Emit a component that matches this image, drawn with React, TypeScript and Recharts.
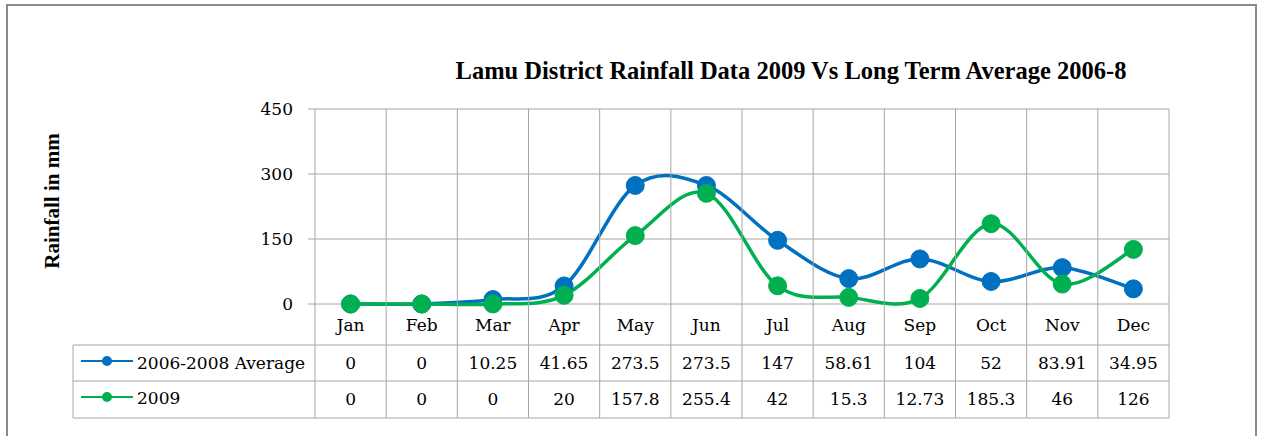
import { LineChart, Line, XAxis, YAxis, CartesianGrid } from "recharts";

const months = ["Jan", "Feb", "Mar", "Apr", "May", "Jun", "Jul", "Aug", "Sep", "Oct", "Nov", "Dec"];
const average = [0, 0, 10.25, 41.65, 273.5, 273.5, 147, 58.61, 104, 52, 83.91, 34.95];
const rain2009 = [0, 0, 0, 20, 157.8, 255.4, 42, 15.3, 12.73, 185.3, 46, 126];
const yTicks = [0, 150, 300, 450];

const seriesNames = ["2006-2008 Average", "2009"];
const BLUE = "#0070c0";
const GREEN = "#00b050";
const GRID = "#a6a6a6";
const FONT = "'DejaVu Serif', serif";
const FONT_SIZE = 17;

const W = 1262;
const H = 436;
const X_AXIS_H = 132;
const M = { top: 109, right: 93, bottom: 0, left: 0 };
const Y_AXIS_W = 315;
const PLOT_W = W - Y_AXIS_W - M.right;
const PLOT_H = H - M.top - X_AXIS_H;
const STEP = PLOT_W / months.length;
const TABLE_LEFT = 73;
// row boundaries below the zero line
const ROW1 = 41;
const ROW2 = 77;
const ROW3 = 114;

const data = months.map((m, i) => ({ month: m, avg: average[i], y2009: rain2009[i] }));

// Excel-like smoothed line (Catmull-Rom)
function smoothCurve(context: any) {
  let xs: number[] = [];
  let ys: number[] = [];
  return {
    areaStart() {},
    areaEnd() {},
    lineStart() {
      xs = [];
      ys = [];
    },
    point(x: number, y: number) {
      xs.push(+x);
      ys.push(+y);
    },
    lineEnd() {
      const n = xs.length;
      if (!n) return;
      context.moveTo(xs[0], ys[0]);
      for (let i = 0; i < n - 1; i++) {
        const a = Math.max(i - 1, 0);
        const d = Math.min(i + 2, n - 1);
        context.bezierCurveTo(
          xs[i] + (xs[i + 1] - xs[a]) / 6,
          ys[i] + (ys[i + 1] - ys[a]) / 6,
          xs[i + 1] - (xs[d] - xs[i]) / 6,
          ys[i + 1] - (ys[d] - ys[i]) / 6,
          xs[i + 1],
          ys[i + 1]
        );
      }
    },
  };
}

const LegendKey = ({ x, y, color }: { x: number; y: number; color: string }) => (
  <g>
    <line x1={x} y1={y} x2={x + 52} y2={y} stroke={color} strokeWidth={2} />
    <circle cx={x + 26} cy={y} r={5} fill={color} />
  </g>
);

const TableTick = (props: any) => {
  const { x, y, payload, index } = props;
  const left = x - STEP / 2;
  const right = x + STEP / 2;
  const top = y - PLOT_H;
  const textStyle = { fontFamily: FONT, fontSize: FONT_SIZE, fill: "#000" };
  return (
    <g>
      <line x1={left} y1={top} x2={left} y2={y + ROW3} stroke={GRID} />
      {index === months.length - 1 && <line x1={right} y1={top} x2={right} y2={y + ROW3} stroke={GRID} />}
      {[ROW1, ROW2, ROW3].map((r) => (
        <line key={r} x1={left} y1={y + r} x2={right} y2={y + r} stroke={GRID} />
      ))}
      <text x={x} y={y + 21} textAnchor="middle" dominantBaseline="central" style={textStyle}>
        {payload.value}
      </text>
      <text x={x} y={y + 59} textAnchor="middle" dominantBaseline="central" style={textStyle}>
        {average[index]}
      </text>
      <text x={x} y={y + 95} textAnchor="middle" dominantBaseline="central" style={textStyle}>
        {rain2009[index]}
      </text>
      {index === 0 && (
        <g>
          <line x1={TABLE_LEFT} y1={y + ROW1} x2={TABLE_LEFT} y2={y + ROW3} stroke={GRID} />
          {[ROW1, ROW2, ROW3].map((r) => (
            <line key={r} x1={TABLE_LEFT} y1={y + r} x2={left} y2={y + r} stroke={GRID} />
          ))}
          <LegendKey x={TABLE_LEFT + 8} y={y + 57} color={BLUE} />
          <LegendKey x={TABLE_LEFT + 8} y={y + 93} color={GREEN} />
          <text x={TABLE_LEFT + 64} y={y + 59} dominantBaseline="central" style={textStyle}>
            {seriesNames[0]}
          </text>
          <text x={TABLE_LEFT + 64} y={y + 94} dominantBaseline="central" style={textStyle}>
            {seriesNames[1]}
          </text>
        </g>
      )}
    </g>
  );
};

export default function App() {
  return (
    <div style={{ position: "absolute", left: 0, top: 0, width: W, height: H, overflow: "hidden", background: "#fff" }}>
      <div
        style={{
          position: "absolute",
          left: 6,
          top: 4,
          width: 1247,
          height: 480,
          border: "2px solid #8a8a8a",
        }}
      />
      <div
        style={{
          position: "absolute",
          left: 391,
          top: 58,
          width: 800,
          textAlign: "center",
          fontFamily: "'Liberation Serif', serif",
          fontWeight: "bold",
          fontSize: 24.5,
          lineHeight: "26px",
        }}
      >
        Lamu District Rainfall Data 2009 Vs Long Term Average 2006-8
      </div>
      <div
        style={{
          position: "absolute",
          left: 52 - 100,
          top: 201 - 13,
          width: 200,
          height: 26,
          lineHeight: "26px",
          textAlign: "center",
          transform: "rotate(-90deg)",
          fontFamily: "'Liberation Serif', serif",
          fontWeight: "bold",
          fontSize: 21,
        }}
      >
        Rainfall in mm
      </div>
      <div style={{ position: "absolute", left: 0, top: 0 }}>
        <LineChart width={W} height={H} data={data} margin={M}>
          <CartesianGrid vertical={false} stroke={GRID} strokeOpacity={1} />
          <YAxis
            width={Y_AXIS_W}
            domain={[0, 450]}
            ticks={yTicks}
            interval={0}
            axisLine={false}
            tickSize={7}
            tickMargin={15}
            tickLine={{ stroke: GRID }}
            tick={{ fontFamily: FONT, fontSize: FONT_SIZE, fill: "#000" }}
          />
          <XAxis
            dataKey="month"
            height={X_AXIS_H}
            padding={{ left: STEP / 2, right: STEP / 2 }}
            axisLine={false}
            tickLine={false}
            tickSize={0}
            tickMargin={0}
            interval={0}
            tick={TableTick}
          />
          <Line
            dataKey="avg"
            type={smoothCurve as any}
            stroke={BLUE}
            strokeWidth={3.5}
            dot={{ r: 9, fill: BLUE, stroke: BLUE, strokeWidth: 1 }}
            activeDot={false}
            isAnimationActive={false}
          />
          <Line
            dataKey="y2009"
            type={smoothCurve as any}
            stroke={GREEN}
            strokeWidth={3.5}
            dot={{ r: 9, fill: GREEN, stroke: GREEN, strokeWidth: 1 }}
            activeDot={false}
            isAnimationActive={false}
          />
        </LineChart>
      </div>
    </div>
  );
}
